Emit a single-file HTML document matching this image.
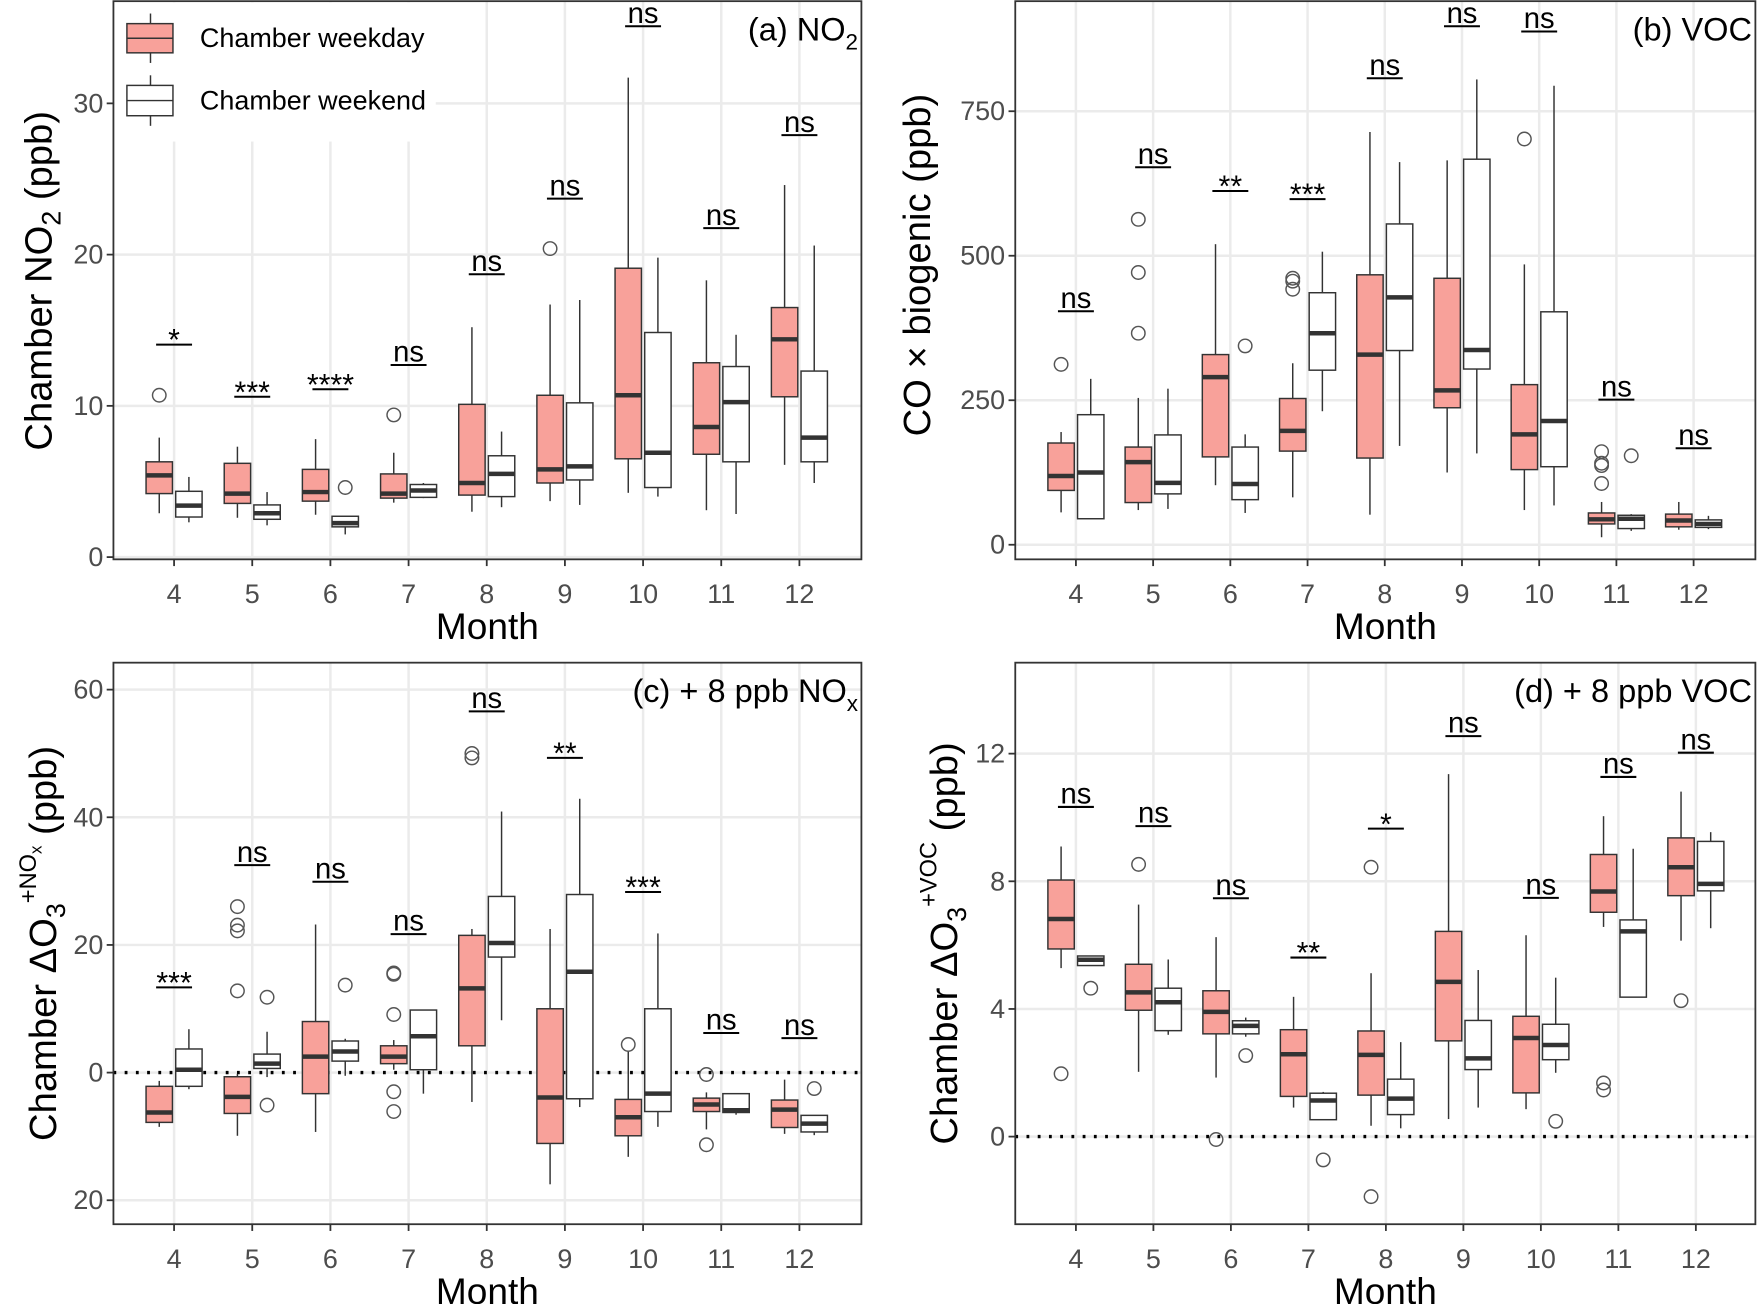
<!DOCTYPE html>
<html><head><meta charset="utf-8"><style>
html,body{margin:0;padding:0;background:#fff;}
svg{display:block;font-family:"Liberation Sans",sans-serif;}
</style></head><body>
<svg id="fig" width="1761" height="1304" viewBox="0 0 1568 1161" xmlns="http://www.w3.org/2000/svg">
<rect width="1568" height="1161" fill="#fff"/>
</svg>
<script>
const months = [4,5,6,7,8,9,10,11,12];
// Panel a: NO2 [low,q1,med,q3,high]
const aWeekday = [[2.9,4.2,5.4,6.3,7.9],[2.6,3.55,4.2,6.2,7.3],[2.8,3.7,4.3,5.8,7.8],[3.6,3.9,4.2,5.5,6.9],[3.0,4.1,4.9,10.1,15.2],[3.7,4.9,5.8,10.7,16.7],[4.25,6.5,10.7,19.1,31.7],[3.1,6.8,8.6,12.85,18.3],[6.1,10.6,14.4,16.5,24.6]];
const aWeekend = [[2.3,2.65,3.4,4.35,5.3],[2.1,2.5,2.9,3.45,4.3],[1.5,2.0,2.25,2.7,2.7],[3.9,3.95,4.4,4.8,4.9],[3.3,4.0,5.5,6.7,8.3],[3.45,5.1,6.0,10.2,17.0],[4.0,4.6,6.9,14.85,19.8],[2.85,6.3,10.25,12.6,14.7],[4.9,6.3,7.9,12.3,20.6]];
const aWdOut = [[10.7],[],[],[9.4],[],[20.4],[],[],[]];
const aWeOut = [[],[],[4.6],[],[],[],[],[],[]];
const aSig = ["*","***","****","ns","ns","ns","ns","ns","ns"];
const aSigY = [14.05,10.6,11.1,12.7,18.7,23.7,35.1,21.75,27.9];
const aTicks = [0,10,20,30];
// Panel b: VOC
const bWeekday = [[56,94,119,176,195],[60,73,143,169,254],[103,152,290,329,520],[82,162,197,253,314],[52,150,329,467,714],[125,237,267,461,665],[60,130,191,277,485],[13,36,44,55,74],[26,31,42,53,74]];
const bWeekend = [[45,45,125,225,287],[62,88,107,190,270],[55,78,105,169,191],[231,302,366,436,507],[171,336,428,555,662],[158,304,337,667,805],[68,135,214,403,794],[24,28,45,51,53],[27,30,36,43,50]];
const bWdOut = [[312],[366,471,563],[],[461,456,442],[],[],[702],[161,141,137,106],[]];
const bWeOut = [[],[],[344],[],[],[],[],[154],[]];
const bSig = ["ns","ns","**","***","ns","ns","ns","ns","ns"];
const bSigY = [404,653,612,598,807,897,888,251,167];
const bTicks = [0,250,500,750];
// Panel c: +8 ppb NOx
const cWeekday = [[-8.5,-7.8,-6.25,-2.15,-1.3],[-9.9,-6.4,-3.8,-0.65,-0.2],[-9.3,-3.3,2.5,8.0,23.2],[0.45,1.4,2.5,4.2,5.1],[-4.6,4.2,13.2,21.5,22.5],[-17.5,-11.1,-3.9,10.0,22.5],[-13.2,-9.9,-7.0,-4.2,3.45],[-8.9,-6.1,-5.0,-4.0,-3.1],[-9.6,-8.6,-5.8,-4.3,-1.1]];
const cWeekend = [[-2.6,-2.15,0.45,3.7,6.8],[-0.7,0.65,1.4,2.9,6.4],[-0.5,1.8,3.3,4.95,5.3],[-3.3,0.45,5.7,9.8,9.8],[8.2,18.1,20.3,27.6,40.9],[-5.4,-4.1,15.8,27.9,42.9],[-8.5,-6.1,-3.3,10.0,21.8],[-6.6,-6.25,-5.9,-3.3,-3.3],[-9.8,-9.3,-8.0,-6.7,-6.7]];
const cWdOut = [[],[26,23.1,22.2,12.8],[],[15.4,15.6,9.1,-3,-6.1],[50,49.3],[],[4.4],[-0.3,-11.3],[]];
const cWeOut = [[],[-5.1,11.8],[13.7],[],[],[],[],[],[-2.5]];
const cSig = ["***","ns","ns","ns","ns","**","***","ns","ns"];
const cSigY = [13.35,32.5,29.9,21.7,56.6,49.3,28.3,6.2,5.4];
const cTicks = [-20,0,20,40,60];
const cTickLabels = ["20","0","20","40","60"];
// Panel d: +8 ppb VOC
const dWeekday = [[5.28,5.88,6.82,8.04,9.09],[2.03,3.96,4.52,5.4,7.27],[1.85,3.22,3.91,4.57,6.25],[0.91,1.26,2.58,3.35,4.38],[0.34,1.3,2.56,3.31,5.12],[0.55,3.0,4.85,6.43,11.36],[0.86,1.37,3.09,3.77,6.31],[6.57,7.03,7.68,8.84,10.04],[6.14,7.55,8.44,9.36,10.81]];
const dWeekend = [[5.36,5.36,5.54,5.66,5.66],[3.19,3.32,4.21,4.65,5.55],[3.13,3.22,3.47,3.63,3.73],[0.53,0.53,1.13,1.36,1.4],[0.26,0.69,1.19,1.8,2.96],[0.91,2.1,2.45,3.64,5.22],[2.0,2.41,2.87,3.52,4.98],[4.37,4.37,6.43,6.79,9.02],[6.53,7.7,7.92,9.25,9.54]];
const dWdOut = [[1.97],[8.53],[-0.09],[],[8.44,-1.88],[],[],[1.68,1.46],[4.26]];
const dWeOut = [[4.65],[],[2.54],[-0.73],[],[],[0.48],[],[]];
const dSig = ["ns","ns","ns","**","*","ns","ns","ns","ns"];
const dSigY = [10.33,9.73,7.47,5.61,9.65,12.55,7.48,11.27,12.03];
const dTicks = [0,4,8,12];

const NS = "http://www.w3.org/2000/svg";
const svg = document.getElementById('fig');
function el(tag, attrs, parent){const e=document.createElementNS(NS,tag);for(const k in attrs)e.setAttribute(k,attrs[k]);(parent||svg).appendChild(e);return e;}

function panel(p){
  const g = el('g',{});
  
  
  const y = v => p.y0 + (v - p.v0) * (p.y1 - p.y0) / (p.v1 - p.v0);
  const x = i => p.x4 + i * p.dx;
  p.ticks.forEach(t=>{ const gl=el('line',{x1:p.L,x2:p.R,y1:y(t),y2:y(t),stroke:'#ebebeb','stroke-width':2.2},g);
     });
  months.forEach((m,i)=>{ const gl=el('line',{x1:x(i),x2:x(i),y1:p.T,y2:p.B,stroke:'#ebebeb','stroke-width':2.2},g);
     });
  if(p.legend){
    const lg = el('g',{},g);
     
    el('rect',{x:p.L+1,y:p.T+1,width:286,height:124,fill:'#fff'},lg);
    [['#F8A19A','Chamber weekday',21,47],['#fff','Chamber weekend',76,103]].forEach(([f,t,a,b])=>{
      const e=el('g',{},lg);  
      el('line',{x1:134,x2:134,y1:a-9,y2:b+9,stroke:'#333','stroke-width':1.3},e);
      el('rect',{x:113,y:a,width:41,height:b-a,fill:f,stroke:'#333','stroke-width':1.3},e);
      el('line',{x1:113,x2:154,y1:(a+b)/2,y2:(a+b)/2,stroke:'#333','stroke-width':1.3},e);
      const tx=el('text',{x:178,y:(a+b)/2+8,'font-size':24,fill:'#000'},e); tx.textContent=t;
    });
  }
  if(p.zero){ const z=el('line',{x1:p.L,x2:p.R,y1:y(0),y2:y(0),stroke:'#000','stroke-width':3,'stroke-dasharray':'2.5 7.5'},g);
     }
  const bw = 23.5;
  function box(stats, cx, fill, name, outs){
    const b = el('g',{},g);
     
    const [lo,q1,md,q3,hi] = stats;
    el('line',{x1:cx,x2:cx,y1:y(hi),y2:y(q3),stroke:'#333','stroke-width':1.3},b);
    el('line',{x1:cx,x2:cx,y1:y(q1),y2:y(lo),stroke:'#333','stroke-width':1.3},b);
    el('rect',{x:cx-bw/2,y:y(q3),width:bw,height:Math.max(0.5,y(q1)-y(q3)),fill:fill,stroke:'#333','stroke-width':1.3},b);
    el('line',{x1:cx-bw/2,x2:cx+bw/2,y1:y(md),y2:y(md),stroke:'#333','stroke-width':4},b);
    outs.forEach(o=>{ const c=el('circle',{cx:cx,cy:y(o),r:6,fill:'none',stroke:'#555','stroke-width':1.3},b);
       });
  }
  months.forEach((m,i)=>{
    box(p.wd[i], x(i)-13.2, '#F8A19A', 'weekday-box-m'+m, p.wdo[i]);
    box(p.we[i], x(i)+13.2, '#fff', 'weekend-box-m'+m, p.weo[i]);
    const s = el('g',{},g);
     
    const ly = y(p.sigY[i]);
    el('line',{x1:x(i)-16,x2:x(i)+16,y1:ly,y2:ly,stroke:'#000','stroke-width':1.8},s);
    const isNs = p.sig[i]==='ns';
    const t=el('text',{x:x(i),y:isNs?ly-3:ly+5,'text-anchor':'middle','font-size':isNs?26:27,fill:'#000'},s);
    t.textContent=p.sig[i];
  });
  const fr=el('rect',{x:p.L,y:p.T,width:p.R-p.L,height:p.B-p.T,fill:'none',stroke:'#333','stroke-width':1.6},g);
   
  p.ticks.forEach((t,k)=>{
    el('line',{x1:p.L-6,x2:p.L,y1:y(t),y2:y(t),stroke:'#333','stroke-width':1.6},g);
    const tl=el('text',{x:p.L-9,y:y(t)+8,'text-anchor':'end','font-size':24,fill:'#4d4d4d'},g);
     
    tl.textContent = p.tickLabels ? p.tickLabels[k] : t;
  });
  months.forEach((m,i)=>{
    el('line',{x1:x(i),x2:x(i),y1:p.B,y2:p.B+6,stroke:'#333','stroke-width':1.6},g);
    const tl=el('text',{x:x(i),y:p.B+39,'text-anchor':'middle','font-size':24,fill:'#4d4d4d'},g);
     
    tl.textContent=m;
  });
  const xt=el('text',{x:(p.L+p.R)/2,y:p.B+71,'text-anchor':'middle','font-size':33,fill:'#000'},g);
   
  xt.textContent='Month';
  const pl=el('text',{x:p.R-3,y:p.T+35,'text-anchor':'end','font-size':29,fill:'#000'},g);
   
  pl.innerHTML=p.label;
  const yt=el('text',{transform:`translate(${p.ytx},${p.yty}) rotate(-90)`,'text-anchor':'middle','font-size':34,fill:'#000'},g);
   
  yt.innerHTML=p.ytitle;
}

panel({id:'a-no2',L:101,R:767,T:1,B:498,x4:155,dx:69.6,y0:496,v0:0,y1:92,v1:30,ticks:aTicks,
  wd:aWeekday,we:aWeekend,wdo:aWdOut,weo:aWeOut,sig:aSig,sigY:aSigY,legend:true,
  label:'(a) NO<tspan font-size="20" dy="8">2</tspan>',ytx:46,yty:250,
  ytitle:'Chamber NO<tspan font-size="24" dy="8">2</tspan><tspan dy="-8"> (ppb)</tspan>'});
panel({id:'b-voc',L:904,R:1563,T:1,B:498,x4:958,dx:68.75,y0:485,v0:0,y1:99,v1:750,ticks:bTicks,
  wd:bWeekday,we:bWeekend,wdo:bWdOut,weo:bWeOut,sig:bSig,sigY:bSigY,
  label:'(b) VOC',ytx:828,yty:236,ytitle:'CO × biogenic  (ppb)'});
panel({id:'c-nox',L:101,R:767,T:590,B:1090,x4:155,dx:69.6,y0:955,v0:0,y1:614,v1:60,ticks:cTicks,tickLabels:cTickLabels,
  wd:cWeekday,we:cWeekend,wdo:cWdOut,weo:cWeOut,sig:cSig,sigY:cSigY,zero:true,
  label:'(c) + 8 ppb NO<tspan font-size="20" dy="8">x</tspan>',ytx:50,yty:840,
  ytitle:'Chamber  ΔO<tspan font-size="24" dy="8">3</tspan><tspan font-size="21" dy="-26">+NO</tspan><tspan font-size="15" dy="5">x</tspan><tspan dy="13">  (ppb)</tspan>'});
panel({id:'d-voc',L:904,R:1563,T:590,B:1090,x4:958,dx:69,y0:1012,v0:0,y1:671,v1:12,ticks:dTicks,
  wd:dWeekday,we:dWeekend,wdo:dWdOut,weo:dWeOut,sig:dSig,sigY:dSigY,zero:true,
  label:'(d) + 8 ppb VOC',ytx:852,yty:840,
  ytitle:'Chamber  ΔO<tspan font-size="24" dy="8">3</tspan><tspan font-size="21" dy="-26">+VOC</tspan><tspan dy="18">  (ppb)</tspan>'});
</script>
</body></html>
